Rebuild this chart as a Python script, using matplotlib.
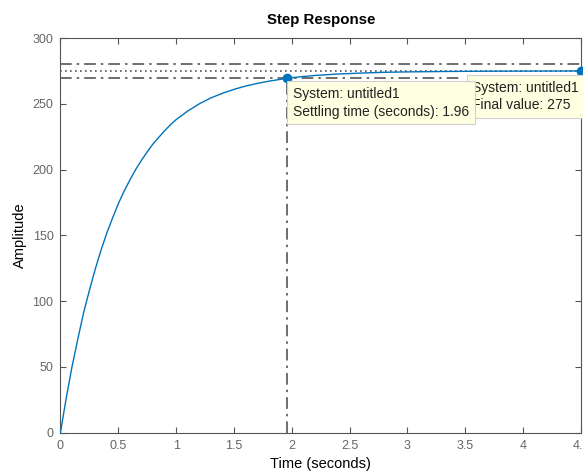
import numpy as np
import matplotlib
matplotlib.use("Agg")
import matplotlib.pyplot as plt

plt.rcParams['font.family'] = ['Liberation Sans', 'DejaVu Sans']

# --------------------------------
# DATA
# --------------------------------
time_s = [0, 0.05, 0.1, 0.15, 0.2, 0.25, 0.3, 0.35, 0.4, 0.45, 0.5, 0.55, 0.6,
          0.65, 0.7, 0.75, 0.8, 0.85, 0.9, 0.95, 1.0, 1.1, 1.2, 1.3, 1.4, 1.5,
          1.6, 1.7, 1.8, 1.9, 1.96, 2.1, 2.2, 2.4, 2.6, 2.8, 3.0, 3.3, 3.6, 4.0, 4.5]
amplitude = [0, 26, 50, 71, 91, 108, 124, 138.5, 151.5, 163, 174, 183.5, 192,
             200, 207, 213.5, 219.5, 224.5, 229.5, 234, 238, 244.5, 250, 254.5, 258, 261,
             263.5, 265.5, 267.2, 268.6, 269.5, 270.8, 271.6, 272.7, 273.4, 274, 274.3,
             274.6, 274.8, 274.9, 275]

final_value = 275
band_hi = 280.5
band_lo = 269.5
settle_t = 1.96
settle_y = 269.5
end_t = 4.5

x_ticks = [0, 0.5, 1, 1.5, 2, 2.5, 3, 3.5, 4, 4.5]
x_labels = ["0", "0.5", "1", "1.5", "2", "2.5", "3", "3.5", "4", "4.5"]
y_ticks = [0, 50, 100, 150, 200, 250, 300]

line_col = "#0072BD"
ref_col = "#555555"
tick_col = "#666666"
dashdot = (0, (7, 3, 1.5, 3))

# --------------------------------
# FIGURE
# --------------------------------
fig = plt.figure(figsize=(5.83, 4.72), dpi=100)
ax = fig.add_axes([0.1036, 0.0833, 0.893, 0.836])

# settling band and final value
ax.plot([0, end_t], [band_hi, band_hi], color=ref_col, lw=1.2, linestyle=dashdot, zorder=2)
ax.plot([0, end_t], [final_value, final_value], color=ref_col, lw=1.2,
        linestyle=(0, (1, 2)), zorder=2)
ax.plot([0, 3.45], [band_lo, band_lo], color=ref_col, lw=1.2, linestyle=dashdot, zorder=2)
ax.plot([settle_t, settle_t], [0, settle_y], color=ref_col, lw=1.2, linestyle=dashdot, zorder=2)

# response
ax.plot(time_s, amplitude, color=line_col, lw=1.0, zorder=3)
ax.plot([settle_t], [settle_y], "o", color=line_col, ms=6, zorder=5, clip_on=False)
ax.plot([end_t], [final_value], "o", color=line_col, ms=6, zorder=5, clip_on=False)

# data tips
tip_box = dict(boxstyle="square,pad=0.4", facecolor="#FFFFE1", edgecolor="#CFCFCF", lw=0.8)
ax.text(3.56, 267.5, "System: untitled1\nFinal value: 275", fontsize=10,
        color="#222222", va="top", ha="left", linespacing=1.3,
        bbox=tip_box, zorder=6, clip_on=False)
ax.text(2.01, 263.0, "System: untitled1\nSettling time (seconds): 1.96", fontsize=10,
        color="#222222", va="top", ha="left", linespacing=1.35,
        bbox=tip_box, zorder=7, clip_on=False)

ax.set_xlim(0, end_t)
ax.set_ylim(0, 300)
ax.set_xticks(x_ticks)
ax.set_xticklabels(x_labels)
ax.set_yticks(y_ticks)

ax.tick_params(direction="in", length=4, width=0.8, top=True, right=True,
               labelsize=9, colors="#555555", labelcolor=tick_col, pad=5)
for sp in ax.spines.values():
    sp.set_color("#555555")
    sp.set_linewidth(0.8)

ax.set_title("Step Response", fontsize=10.8, fontweight="bold", pad=10)
ax.set_xlabel("Time (seconds)", fontsize=10.5, labelpad=4)
ax.set_ylabel("Amplitude", fontsize=10.5, labelpad=4)

fig.savefig("out.png", dpi=100)
